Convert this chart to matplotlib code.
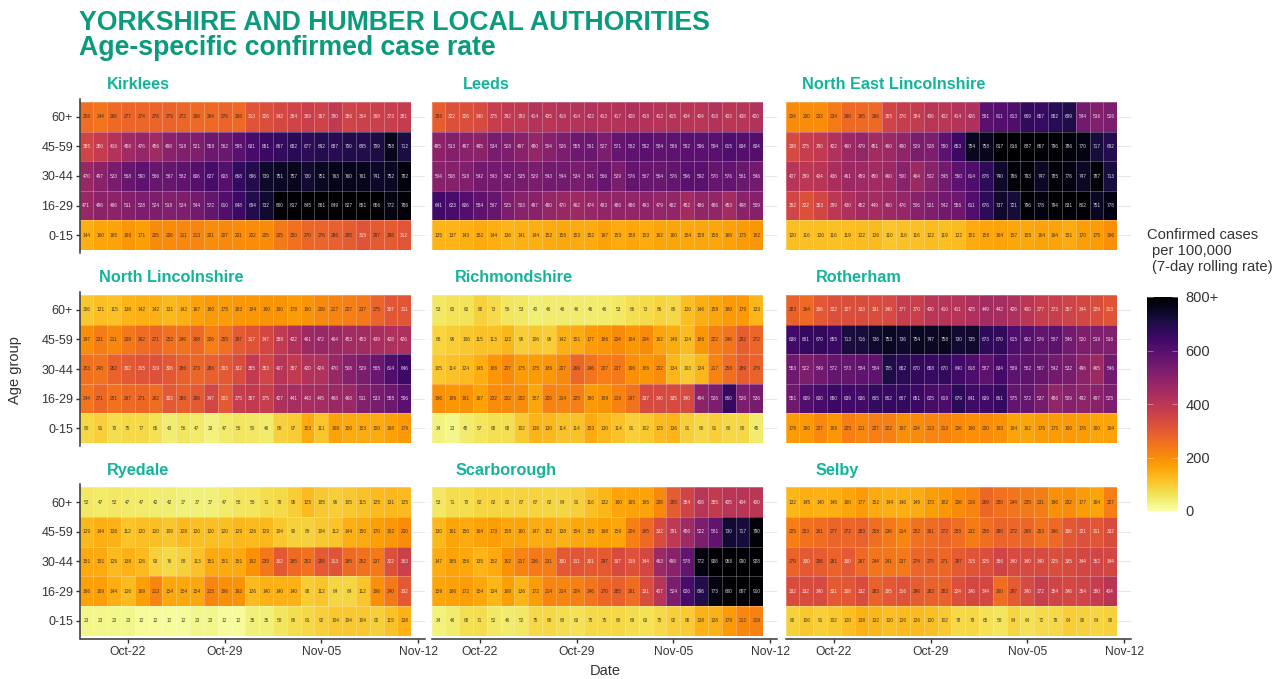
import numpy as np
import pandas as pd
import matplotlib
matplotlib.use("Agg")
import matplotlib.pyplot as plt
import matplotlib.dates as mdates
from matplotlib.cm import ScalarMappable
from matplotlib.colors import Normalize

plt.rcParams['font.family'] = ['Liberation Sans', 'DejaVu Sans']

W, H = 1285, 679

age_groups = ["0-15", "16-29", "30-44", "45-59", "60+"]
dates = pd.date_range("2020-10-19", "2020-11-11")
tick_dates = pd.to_datetime(["2020-10-22", "2020-10-29", "2020-11-05", "2020-11-12"])

# each block runs top row (60+) to bottom row (0-15)
kirklees = [
    [258, 244, 266, 277, 274, 276, 279, 272, 266, 264, 276, 268, 313, 326, 342, 354, 369, 357, 390, 356, 364, 368, 373, 381],
    [355, 380, 416, 456, 476, 456, 498, 518, 521, 558, 562, 595, 631, 651, 667, 682, 677, 692, 687, 700, 695, 709, 758, 712],
    [470, 497, 533, 568, 590, 566, 567, 582, 606, 627, 603, 668, 696, 739, 751, 757, 730, 751, 763, 760, 761, 741, 752, 782],
    [471, 496, 496, 511, 528, 524, 518, 524, 544, 572, 610, 648, 694, 732, 800, 817, 845, 861, 849, 827, 851, 856, 772, 786],
    [144, 160, 165, 186, 171, 205, 206, 211, 213, 201, 207, 201, 202, 205, 235, 250, 270, 276, 286, 295, 315, 297, 298, 312],
]
leeds = [
    [288, 322, 326, 340, 375, 392, 393, 414, 405, 416, 414, 422, 413, 417, 426, 418, 412, 415, 404, 404, 418, 403, 408, 420],
    [495, 513, 497, 495, 534, 528, 497, 480, 504, 526, 555, 561, 527, 571, 582, 592, 584, 586, 592, 596, 594, 615, 604, 604],
    [504, 508, 518, 542, 543, 542, 535, 529, 543, 544, 534, 541, 566, 529, 576, 567, 564, 576, 596, 592, 570, 576, 561, 546],
    [641, 623, 606, 584, 567, 525, 503, 497, 480, 470, 462, 474, 483, 486, 486, 493, 479, 482, 452, 486, 486, 453, 498, 509],
    [135, 137, 143, 152, 144, 136, 141, 144, 152, 156, 153, 152, 167, 153, 158, 153, 162, 160, 154, 158, 158, 166, 175, 182],
]
ne_lincs = [
    [204, 200, 203, 234, 266, 265, 266, 355, 376, 384, 406, 402, 414, 426, 591, 611, 613, 669, 657, 682, 699, 544, 516, 526],
    [339, 375, 390, 422, 460, 479, 451, 460, 490, 529, 528, 590, 653, 754, 758, 817, 816, 887, 867, 796, 786, 770, 717, 692],
    [407, 399, 404, 436, 461, 459, 450, 460, 500, 464, 502, 545, 590, 614, 676, 740, 786, 793, 747, 785, 776, 747, 787, 713],
    [352, 322, 353, 399, 430, 452, 449, 460, 476, 506, 521, 542, 556, 611, 676, 737, 721, 796, 778, 794, 831, 802, 751, 778],
    [120, 116, 120, 116, 119, 122, 126, 110, 116, 116, 122, 119, 122, 151, 158, 164, 157, 155, 164, 164, 151, 170, 175, 196],
]
n_lincs = [
    [106, 121, 115, 136, 142, 142, 131, 142, 167, 180, 175, 183, 184, 190, 190, 178, 190, 209, 217, 227, 237, 275, 307, 311],
    [197, 231, 211, 239, 262, 271, 252, 249, 268, 226, 255, 297, 317, 347, 388, 422, 461, 472, 464, 453, 453, 439, 428, 426],
    [253, 248, 282, 302, 315, 319, 306, 286, 273, 286, 303, 332, 385, 353, 407, 387, 420, 424, 470, 508, 529, 565, 614, 646],
    [244, 271, 251, 267, 271, 262, 303, 286, 298, 347, 303, 375, 387, 375, 427, 441, 443, 445, 468, 468, 511, 533, 555, 596],
    [80, 91, 70, 75, 77, 65, 43, 56, 47, 33, 47, 56, 50, 46, 89, 97, 153, 111, 168, 150, 153, 150, 168, 179],
]
richmondshire = [
    [53, 60, 60, 90, 73, 56, 53, 40, 46, 46, 46, 46, 46, 53, 66, 73, 86, 80, 120, 146, 159, 180, 179, 133],
    [86, 96, 106, 115, 113, 132, 96, 106, 96, 142, 151, 177, 186, 204, 184, 204, 162, 149, 124, 186, 222, 246, 292, 272],
    [105, 114, 124, 145, 186, 207, 175, 175, 186, 207, 269, 246, 227, 237, 196, 186, 202, 134, 103, 134, 217, 258, 289, 279],
    [196, 186, 191, 167, 202, 202, 202, 157, 220, 214, 225, 180, 189, 219, 247, 337, 340, 335, 340, 494, 526, 660, 526, 536],
    [34, 23, 45, 57, 68, 68, 102, 136, 130, 114, 114, 153, 130, 114, 91, 102, 125, 136, 91, 80, 91, 80, 80, 45],
]
rotherham = [
    [283, 264, 306, 322, 327, 333, 331, 340, 377, 370, 400, 410, 411, 425, 449, 442, 426, 400, 377, 373, 357, 344, 329, 313],
    [638, 661, 670, 655, 713, 716, 736, 753, 736, 754, 747, 758, 730, 735, 673, 670, 615, 603, 576, 587, 546, 520, 519, 516],
    [553, 522, 549, 572, 573, 584, 584, 705, 682, 670, 658, 670, 640, 618, 587, 634, 589, 582, 567, 542, 532, 496, 465, 546],
    [551, 609, 630, 650, 639, 636, 665, 662, 667, 651, 625, 619, 679, 641, 639, 661, 575, 572, 537, 486, 509, 492, 497, 525],
    [178, 180, 207, 186, 225, 211, 227, 222, 197, 204, 213, 213, 206, 196, 200, 193, 164, 162, 176, 175, 180, 176, 160, 164],
]
ryedale = [
    [52, 47, 52, 47, 47, 42, 42, 37, 37, 37, 47, 58, 58, 71, 78, 95, 125, 105, 96, 105, 115, 125, 131, 125],
    [129, 144, 138, 112, 120, 120, 109, 128, 120, 120, 120, 129, 126, 129, 104, 90, 88, 104, 112, 144, 150, 170, 182, 200],
    [151, 151, 126, 138, 126, 93, 76, 88, 113, 151, 151, 151, 192, 239, 302, 265, 252, 298, 313, 265, 252, 237, 322, 363],
    [166, 169, 144, 126, 169, 213, 154, 154, 154, 215, 196, 192, 126, 140, 140, 140, 98, 112, 84, 84, 112, 196, 240, 302],
    [23, 23, 23, 23, 12, 12, 12, 12, 23, 23, 12, 12, 35, 35, 58, 69, 81, 92, 104, 104, 104, 92, 115, 138],
]
scarborough = [
    [53, 71, 70, 82, 82, 82, 87, 87, 82, 84, 91, 116, 132, 160, 165, 165, 208, 295, 354, 408, 385, 405, 404, 400],
    [130, 161, 150, 164, 173, 158, 160, 147, 152, 138, 154, 155, 168, 159, 224, 265, 332, 391, 456, 522, 581, 730, 717, 790],
    [147, 165, 156, 135, 152, 192, 217, 236, 231, 300, 311, 301, 297, 337, 319, 344, 463, 498, 578, 772, 908, 958, 990, 928],
    [159, 166, 172, 154, 134, 169, 136, 172, 214, 214, 224, 246, 270, 285, 261, 331, 407, 524, 626, 696, 773, 800, 897, 910],
    [34, 46, 68, 71, 52, 46, 52, 75, 80, 69, 63, 75, 75, 80, 69, 63, 75, 92, 98, 138, 138, 179, 212, 219],
]
selby = [
    [132, 145, 140, 146, 160, 177, 152, 144, 146, 149, 173, 182, 206, 216, 269, 250, 244, 235, 231, 196, 202, 177, 164, 227],
    [225, 253, 261, 277, 272, 283, 258, 236, 214, 252, 261, 272, 258, 232, 258, 280, 272, 269, 253, 266, 306, 321, 311, 332],
    [279, 300, 296, 281, 300, 267, 244, 241, 237, 274, 278, 271, 297, 315, 325, 356, 340, 340, 340, 325, 335, 344, 352, 344],
    [332, 332, 340, 301, 308, 332, 283, 305, 316, 296, 283, 283, 324, 346, 344, 260, 297, 340, 372, 354, 346, 354, 380, 404],
    [90, 106, 91, 102, 120, 138, 132, 120, 126, 126, 120, 102, 78, 79, 65, 58, 84, 64, 72, 78, 94, 90, 84, 90],
]

panels = [
    ("Kirklees", kirklees), ("Leeds", leeds), ("North East Lincolnshire", ne_lincs),
    ("North Lincolnshire", n_lincs), ("Richmondshire", richmondshire), ("Rotherham", rotherham),
    ("Ryedale", ryedale), ("Scarborough", scarborough), ("Selby", selby),
]

# layout, in pixels of the target
col_left = [79.5, 431.5, 785.5]
col_width = 345.5
row_top = [99, 292, 484.5]
row_height = 154
title_x = [107, 463, 802, 99, 455, 816, 107, 456, 816]
title_y = [84.5, 277.5, 470.5]

GREEN = "#0a9a7c"
PANEL_GREEN = "#14b39b"
DARK = "#333333"


def to_fig(x, y):
    return x / W, 1 - y / H


fig = plt.figure(figsize=(W / 100, H / 100), dpi=100)
norm = Normalize(0, 800)
cmap = plt.get_cmap("inferno_r")

x_edges = mdates.date2num(dates) - 0.5
x_edges = np.append(x_edges, x_edges[-1] + 1)
y_edges = np.arange(6) - 0.5

for i, (name, block) in enumerate(panels):
    r, c = divmod(i, 3)
    left, top = col_left[c], row_top[r]
    ax = fig.add_axes([left / W, 1 - (top + row_height) / H, col_width / W, row_height / H])
    vals = np.array(block)[::-1]
    ax.set_axisbelow(True)
    ax.pcolormesh(x_edges, y_edges, vals, cmap=cmap, norm=norm, zorder=2)
    # thin faint cell borders, the mesh's own edges come out too heavy
    ax.vlines(x_edges, -0.5, 4.5, color="white", linewidth=0.6, alpha=0.3, zorder=2.5)
    ax.hlines(y_edges, x_edges[0], x_edges[-1], color="white", linewidth=0.6, alpha=0.3, zorder=2.5)
    for yi in range(5):
        for xi, d in enumerate(mdates.date2num(dates)):
            v = vals[yi, xi]
            ax.text(d, yi, str(v), ha="center", va="center", fontsize=3.4, zorder=3,
                    color="white" if v >= 300 else "#222222", alpha=0.85)

    ax.set_xlim(x_edges[0], x_edges[-1] + 1)
    ax.set_ylim(-0.6, 4.6)
    ax.set_yticks(range(5))
    ax.set_yticklabels(age_groups)
    ax.set_xticks(mdates.date2num(tick_dates))
    ax.xaxis.set_major_formatter(mdates.DateFormatter("%b-%d"))
    ax.grid(axis="y", color="#e6e6e6", linewidth=0.7, zorder=0)

    for s in ax.spines.values():
        s.set_visible(False)
    if c == 0:
        ax.spines["left"].set_visible(True)
        ax.spines["left"].set_linewidth(1.1)
        ax.spines["left"].set_color(DARK)
    if r == 2:
        ax.spines["bottom"].set_visible(True)
        ax.spines["bottom"].set_linewidth(1.1)
        ax.spines["bottom"].set_color(DARK)
    ax.tick_params(axis="y", left=c == 0, labelleft=c == 0, length=3, width=1,
                   color=DARK, labelsize=9, labelcolor=DARK, pad=1.5)
    ax.tick_params(axis="x", bottom=r == 2, labelbottom=r == 2, length=3, width=1,
                   color=DARK, labelsize=8.7, labelcolor=DARK, pad=2.5)
    fig.text(*to_fig(title_x[i], title_y[r]), name, color=PANEL_GREEN, fontsize=11.7,
             fontweight="bold", ha="left", va="center")

fig.text(*to_fig(79, 23), "YORKSHIRE AND HUMBER LOCAL AUTHORITIES", color=GREEN,
         fontsize=19.2, fontweight="bold", ha="left", va="center")
fig.text(*to_fig(79, 48), "Age-specific confirmed case rate", color=GREEN,
         fontsize=19.2, fontweight="bold", ha="left", va="center")

fig.text(*to_fig(15, 370), "Age group", rotation=90, fontsize=10.5, color=DARK,
         ha="center", va="center")
fig.text(*to_fig(605, 671), "Date", fontsize=10.5, color=DARK, ha="center", va="center")

# colour bar and its legend title
cax = fig.add_axes([1147 / W, 1 - 511 / H, 31 / W, 214 / H])
cb = fig.colorbar(ScalarMappable(norm=norm, cmap=cmap), cax=cax)
cb.outline.set_visible(False)
cb.set_ticks([0, 200, 400, 600, 800])
cb.set_ticklabels(["0", "200", "400", "600", "800+"])
cax.tick_params(axis="y", direction="in", left=True, right=True, length=4, width=0.5,
                color=(1, 1, 1, 0.5), labelsize=10.5, labelcolor=DARK, pad=5.5)
fig.text(*to_fig(1147, 235), "Confirmed cases", fontsize=10.6, color=DARK, ha="left", va="center")
fig.text(*to_fig(1152, 250.5), "per 100,000", fontsize=10.6, color=DARK, ha="left", va="center")
fig.text(*to_fig(1152, 267), "(7-day rolling rate)", fontsize=10.6, color=DARK, ha="left", va="center")

fig.savefig("out.png", dpi=100)
